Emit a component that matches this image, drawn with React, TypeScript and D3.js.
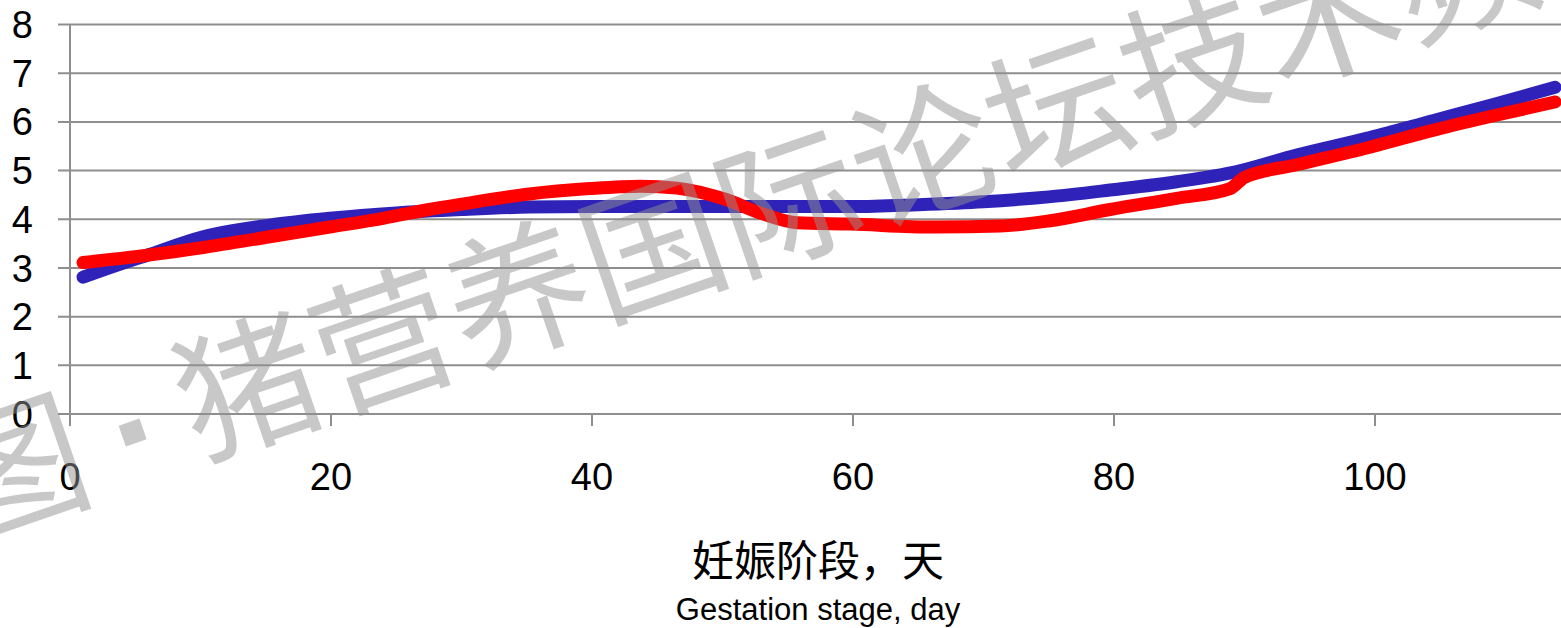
import React from "react";
import * as d3 from "d3";

// ---- data ----
const blueDays = [1.0, 3, 5.9, 10.2, 15.3, 19.9, 25, 30, 35.2, 40, 45, 50, 55, 60, 65, 70, 75, 79.7, 84.8, 89.4, 94, 99.6, 104.5, 109, 113.8];
const blueValues = [2.81, 3.0, 3.26, 3.64, 3.88, 4.02, 4.13, 4.2, 4.25, 4.26, 4.26, 4.26, 4.26, 4.26, 4.3, 4.36, 4.46, 4.6, 4.77, 4.98, 5.32, 5.68, 6.03, 6.35, 6.71];

const redDays = [1.0, 5.9, 10.2, 15.3, 19.9, 24, 27.3, 30, 35.2, 39.8, 43.7, 46.5, 50.1, 53.1, 55.7, 59.8, 66.2, 71.3, 75.1, 79.7, 84.8, 88.9, 90, 94, 99.6, 104.5, 109, 113.8];
const redValues = [3.11, 3.26, 3.42, 3.64, 3.84, 4.02, 4.19, 4.31, 4.52, 4.63, 4.68, 4.64, 4.42, 4.11, 3.93, 3.9, 3.84, 3.86, 3.97, 4.2, 4.43, 4.63, 4.86, 5.12, 5.48, 5.83, 6.12, 6.41];

const yTicks = [0, 1, 2, 3, 4, 5, 6, 7, 8];
const xTicks = [0, 20, 40, 60, 80, 100];

const titleCn = "妊娠阶段，天";
const titleEn = "Gestation stage, day";

const watermarkHead = "图";
const watermarkChars = ["猪", "营", "养", "国", "际", "论", "坛", "技", "术", "频", "道"];

const W = 1561;
const H = 628;

export default function App() {
  const x = d3.scaleLinear().domain([0, 114.3]).range([70, 1561.6]);
  const y = d3.scaleLinear().domain([0, 8]).range([414, 24.5]);

  const line = d3
    .line<[number, number]>()
    .x((d) => x(d[0]))
    .y((d) => y(d[1]))
    .curve(d3.curveMonotoneX);

  const blue: [number, number][] = blueDays.map((d, i) => [d, blueValues[i]]);
  const red: [number, number][] = redDays.map((d, i) => [d, redValues[i]]);

  const gridColor = "#8e8e8e";
  const numFont = "'Liberation Sans', Arial, sans-serif";
  const cjkFont = "'Noto Sans CJK SC', sans-serif";

  const wmStep = 142.7;

  return (
    <svg
      width={W}
      height={H}
      viewBox={`0 0 ${W} ${H}`}
      style={{ position: "absolute", left: 0, top: 0, background: "#fff" }}
    >
      <rect x={0} y={0} width={W} height={H} fill="#fff" />
      {/* gridlines */}
      {yTicks.map((t) => (
        <line key={"g" + t} x1={58} x2={W} y1={y(t)} y2={y(t)} stroke={gridColor} strokeWidth={2} />
      ))}
      {/* y axis */}
      <line x1={x(0)} x2={x(0)} y1={y(8)} y2={y(0) + 12} stroke={gridColor} strokeWidth={2} />
      {/* x ticks */}
      {xTicks.map((t) => (
        <line key={"xt" + t} x1={x(t)} x2={x(t)} y1={y(0)} y2={y(0) + 12} stroke={gridColor} strokeWidth={2} />
      ))}
      {/* y labels */}
      {yTicks.map((t) => (
        <text key={"yl" + t} x={33} y={y(t) + 13.6} textAnchor="end" fontFamily={numFont} fontSize={38} fill="#000">
          {t}
        </text>
      ))}
      {/* x labels */}
      {xTicks.map((t) => (
        <text key={"xl" + t} x={x(t)} y={490} textAnchor="middle" fontFamily={numFont} fontSize={38} fill="#000">
          {t}
        </text>
      ))}
      {/* series */}
      <path d={line(blue) || ""} fill="none" stroke="#2f22b8" strokeWidth={13} strokeLinecap="round" strokeLinejoin="round" />
      <path d={line(red) || ""} fill="none" stroke="#ff0000" strokeWidth={13} strokeLinecap="round" strokeLinejoin="round" />
      {/* axis titles */}
      <text x={818} y={576} textAnchor="middle" fontFamily={cjkFont} fontSize={42} fill="#000">
        {titleCn}
      </text>
      <text x={818} y={620} textAnchor="middle" fontFamily={numFont} fontSize={31} fill="#000">
        {titleEn}
      </text>
      {/* watermark */}
      <g transform="translate(245,378) rotate(-19)" fill="#919191" fillOpacity={0.5} fontFamily={cjkFont} fontSize={142}>
        <text x={-247} y={0} textAnchor="middle" dominantBaseline="central">
          {watermarkHead}
        </text>
        <rect x={-124 - 11} y={15 - 11} width={22} height={22} />
        {watermarkChars.map((c, i) => (
          <text key={"wm" + i} x={i * wmStep} y={0} textAnchor="middle" dominantBaseline="central">
            {c}
          </text>
        ))}
      </g>
    </svg>
  );
}
